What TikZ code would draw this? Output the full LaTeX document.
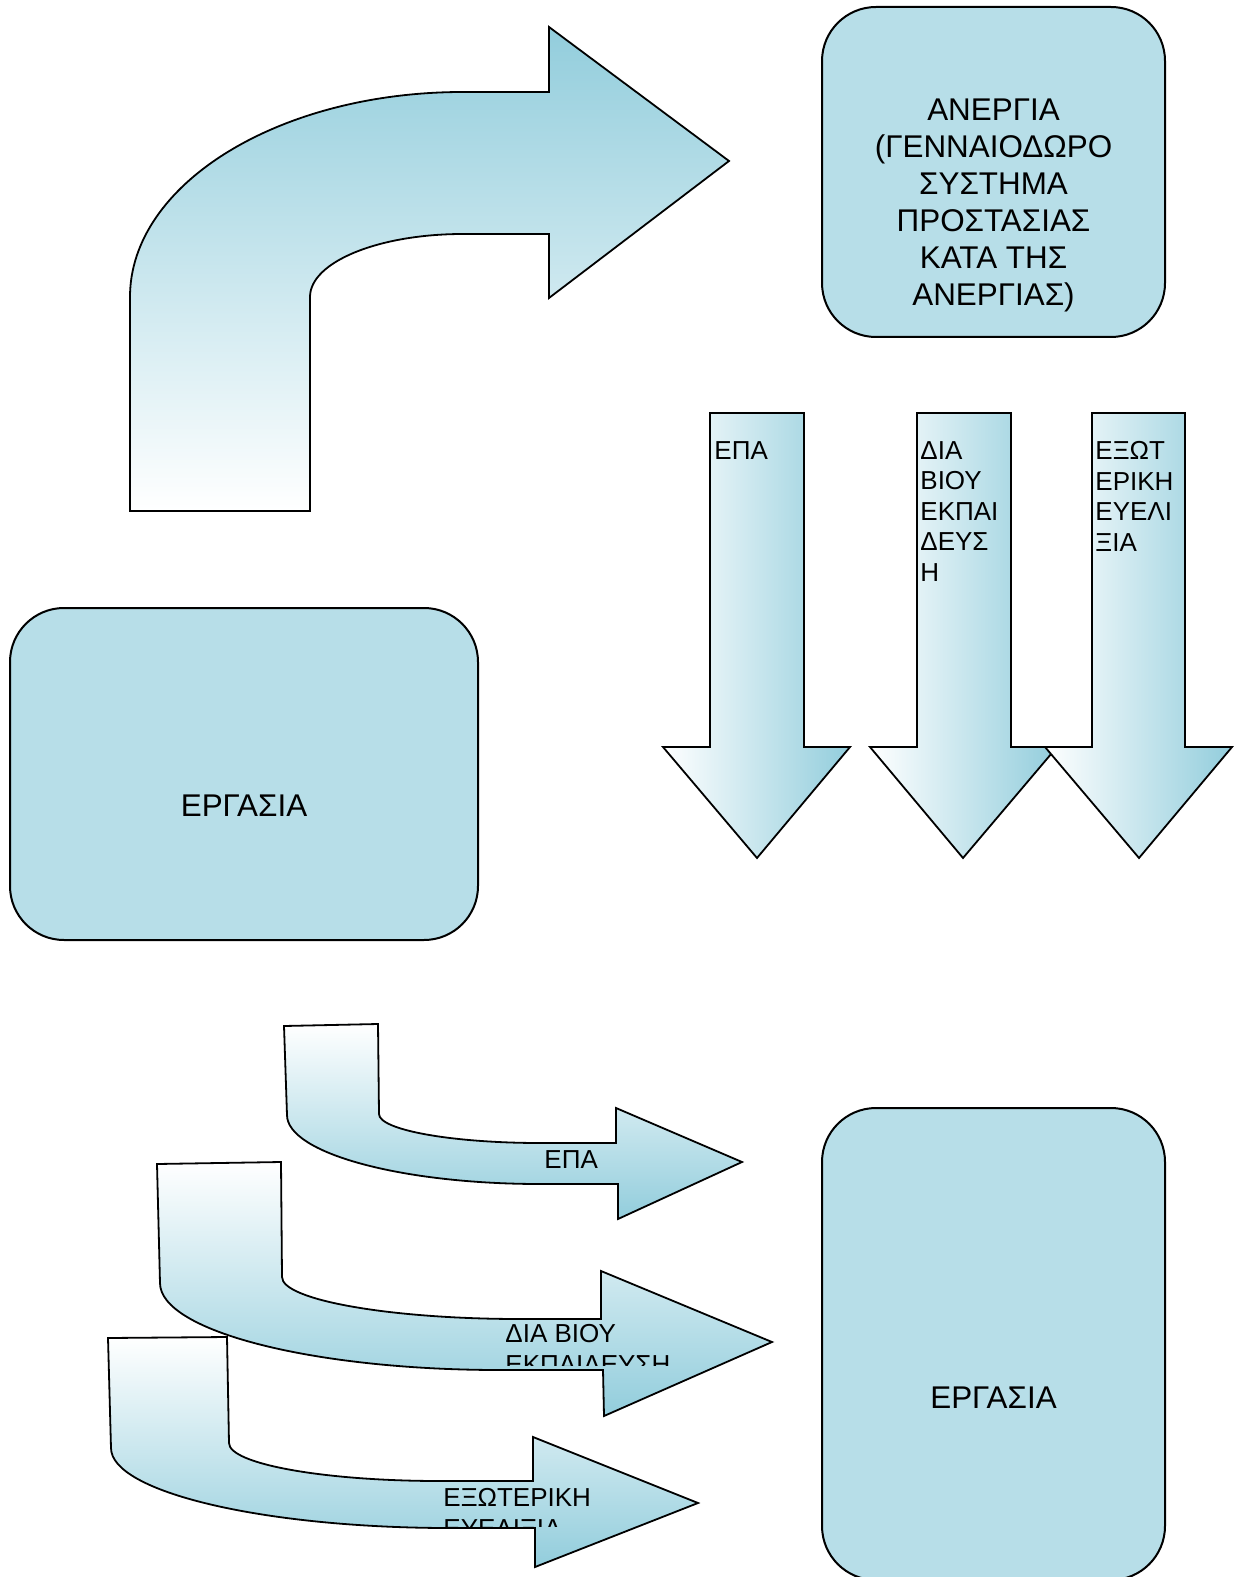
\documentclass[tikz,border=0pt]{standalone}
\usepackage{fontspec}
\setmainfont{Liberation Sans}
\definecolor{boxblue}{HTML}{B7DEE8}
\definecolor{arrowblue}{HTML}{92CDDC}
\begin{document}
\begin{tikzpicture}[x=0.5pt,y=-0.5pt,
  boxnode/.style={draw=black, line width=1pt, fill=boxblue, rounded corners=27pt, inner sep=0pt, outer sep=0pt},
  arrowshape/.style={draw=black, line width=0.9pt, line join=miter},
  downshade/.style={arrowshape, left color=white, right color=arrowblue},
  upshade/.style={arrowshape, top color=white, bottom color=arrowblue},
  bigfont/.style={font=\fontsize{15.7}{18.5}\selectfont, inner sep=0pt},
  smallfont/.style={font=\fontsize{13}{15.25}\selectfont, inner sep=0pt, align=left, anchor=north west}]
\useasboundingbox (0,0) rectangle (1247,1577);

% big bent arrow (top)
\shadedraw[arrowshape, top color=arrowblue, bottom color=white]
  (130,511) -- (130,297) .. controls (130,184) and (279,92) .. (463,92)
  -- (549,92) -- (549,27) -- (729,161) -- (549,298) -- (549,234) -- (463,234)
  .. controls (378.5,234) and (310,262) .. (310,297) -- (310,511) -- cycle;

% boxes
\node[boxnode, minimum width=171.5pt, minimum height=165pt] (anergiabox) at (993.5,172) {};
\node[bigfont, align=center] (anergiatext) at (993.5,205)
  {ΑΝΕΡΓΙΑ\\(ΓΕΝΝΑΙΟΔΩΡΟ\\ΣΥΣΤΗΜΑ\\ΠΡΟΣΤΑΣΙΑΣ\\ΚΑΤΑ ΤΗΣ\\ΑΝΕΡΓΙΑΣ)};

\node[boxnode, minimum width=234pt, minimum height=166pt] (ergasiabox1) at (244,774) {};
\node[bigfont] (ergasiatext1) at (244,806) {ΕΡΓΑΣΙΑ};

\node[boxnode, minimum width=171.5pt, minimum height=236pt] (ergasiabox2) at (993.5,1344) {};
\node[bigfont] (ergasiatext2) at (993.5,1398) {ΕΡΓΑΣΙΑ};

% down arrows
\shadedraw[downshade] (710,413) -- (804,413) -- (804,747) -- (850,747) -- (757,858) -- (663,747) -- (710,747) -- cycle;
\node[smallfont] (downepa) at (714,441) {ΕΠΑ};

\shadedraw[downshade] (917,413) -- (1011,413) -- (1011,747) -- (1057,747) -- (963,858) -- (870,747) -- (917,747) -- cycle;
\node[smallfont] (downdia) at (920,441) {ΔΙΑ\\ΒΙΟΥ\\ΕΚΠΑΙ\\ΔΕΥΣ\\Η};

\shadedraw[downshade] (1092,413) -- (1185,413) -- (1185,747) -- (1232,747) -- (1139,858) -- (1045,747) -- (1092,747) -- cycle;
\node[smallfont] (downexo) at (1095,441) {ΕΞΩΤ\\ΕΡΙΚΗ\\ΕΥΕΛΙ\\ΞΙΑ};

% bottom bent arrows
\shadedraw[upshade] (284,1026) -- (378,1024) -- (379,1114)
  .. controls (379,1130) and (452,1143) .. (540,1143) -- (616,1143)
  -- (616,1108) -- (742,1162) -- (618,1219) -- (618,1184) -- (540,1184)
  .. controls (401,1184) and (287,1153) .. (287,1115) -- cycle;
\node[smallfont] (botepa) at (544,1150) {ΕΠΑ};

\shadedraw[upshade] (157,1164) -- (281,1162) -- (282,1277)
  .. controls (282,1300) and (390,1319) .. (520,1319) -- (601,1319)
  -- (601,1271) -- (772,1342) -- (604,1416) -- (603,1370) -- (500,1370)
  .. controls (313,1370) and (160,1331) .. (160,1283) -- cycle;
\begin{scope}
  \clip (480,1300) rectangle (800,1365);
  \node[smallfont] (botdia) at (505,1324) {ΔΙΑ ΒΙΟΥ\\ΕΚΠΑΙΔΕΥΣΗ};
\end{scope}

\shadedraw[upshade] (108,1338) -- (227,1337) -- (229,1443)
  .. controls (229,1464) and (324,1481) .. (440,1481) -- (533,1481)
  -- (533,1437) -- (698,1503) -- (535,1567) -- (535,1528) -- (450,1528)
  .. controls (264,1528) and (111,1492) .. (111,1448) -- cycle;
\begin{scope}
  \clip (420,1470) rectangle (700,1526);
  \node[smallfont] (botexo) at (443,1488) {ΕΞΩΤΕΡΙΚΗ\\ΕΥΕΛΙΞΙΑ};
\end{scope}
\end{tikzpicture}
\end{document}
